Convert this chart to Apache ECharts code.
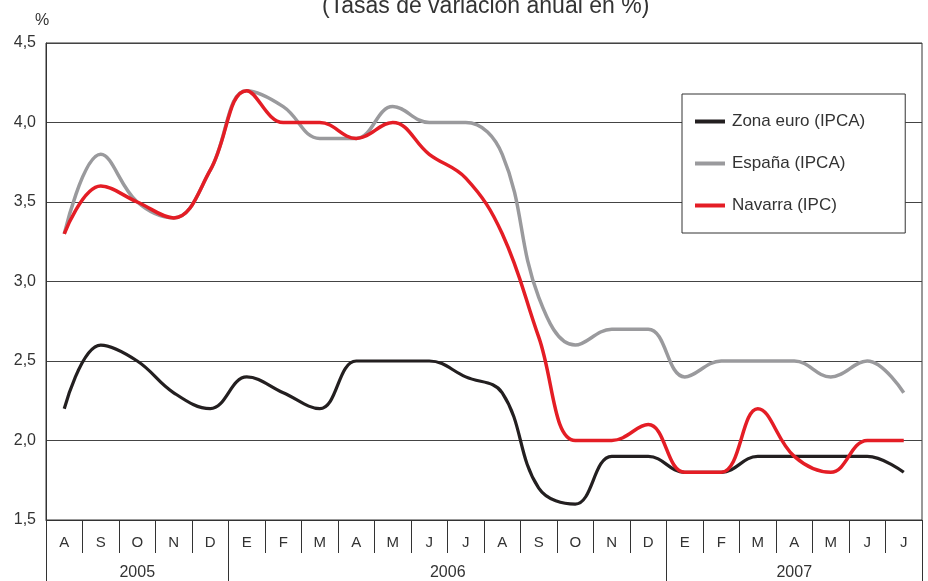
<!DOCTYPE html>
<html>
<head>
<meta charset="utf-8">
<script src="https://cdn.jsdelivr.net/npm/echarts@6/dist/echarts.min.js"></script>
<style>
  html, body { margin: 0; padding: 0; background: #fff; }
  #chart { width: 928px; height: 581px; }
</style>
</head>
<body>
<div id="chart"></div>
<script>
// meses (agosto 2005 - julio 2007)
var months = ['A', 'S', 'O', 'N', 'D',
  'E', 'F', 'M', 'A', 'M', 'J', 'J', 'A', 'S', 'O', 'N', 'D',
  'E', 'F', 'M', 'A', 'M', 'J', 'J'];
// año de cada tramo y dónde va la etiqueta del año
var years = ['2005', '2006', '2007'];
var yearStart = [0, 5, 17];
var yearLabelAt = [2, 10, 20];

var zonaEuro = [2.2, 2.6, 2.5, 2.3, 2.2,
  2.4, 2.3, 2.2, 2.5, 2.5, 2.5, 2.4, 2.3, 1.7, 1.6, 1.9, 1.9,
  1.8, 1.8, 1.9, 1.9, 1.9, 1.9, 1.8];
var espana = [3.3, 3.8, 3.5, 3.4, 3.7,
  4.2, 4.1, 3.9, 3.9, 4.1, 4.0, 4.0, 3.8, 2.9, 2.6, 2.7, 2.7,
  2.4, 2.5, 2.5, 2.5, 2.4, 2.5, 2.3];
var navarra = [3.3, 3.6, 3.5, 3.4, 3.7,
  4.2, 4.0, 4.0, 3.9, 4.0, 3.8, 3.65, 3.3, 2.65, 2.0, 2.0, 2.1,
  1.8, 1.8, 2.2, 1.9, 1.8, 2.0, 2.0];

var yearAxisData = months.map(function (m, i) {
  var k = yearLabelAt.indexOf(i);
  return k >= 0 ? years[k] : '';
});

var font = '"Liberation Sans", Roboto, sans-serif';

var myChart = echarts.init(document.getElementById('chart'));
myChart.setOption({
  backgroundColor: '#fff',
  animation: false,
  textStyle: { fontFamily: font },
  title: {
    text: '(Tasas de variación anual en %)',
    left: 317,
    top: -10,
    textStyle: { fontSize: 23, fontWeight: 'normal', color: '#333', fontFamily: font }
  },
  legend: {
    orient: 'vertical',
    left: 682,
    top: 94,
    width: 215,
    padding: [19, 40, 19, 13],
    itemGap: 25,
    itemWidth: 30,
    itemHeight: 4,
    icon: 'rect',
    backgroundColor: '#fff',
    borderColor: '#333',
    borderWidth: 1,
    textStyle: { fontSize: 17, color: '#333', padding: [0, 0, 0, 2] },
    data: ['Zona euro (IPCA)', 'España (IPCA)', 'Navarra (IPC)']
  },
  grid: {
    left: 46, right: 6, top: 43, bottom: 60,
    show: true, borderColor: '#333', borderWidth: 1
  },
  xAxis: [{
    type: 'category',
    data: months,
    boundaryGap: true,
    axisLine: { lineStyle: { color: '#333', width: 1 } },
    axisTick: { show: true, interval: 0, length: 33, lineStyle: { color: '#333' } },
    axisLabel: { interval: 0, margin: 15, fontSize: 15, color: '#333' },
    splitLine: { show: false }
  }, {
    type: 'category',
    data: yearAxisData,
    position: 'bottom',
    boundaryGap: true,
    axisLine: { show: false },
    axisTick: {
      show: true,
      length: 62,
      interval: function (i) { return yearStart.indexOf(i) >= 0; },
      lineStyle: { color: '#333' }
    },
    axisLabel: {
      interval: 0,
      margin: 45,
      fontSize: 16,
      color: '#333',
      formatter: function (v, i) { return i === 10 ? '{s|' + v + '}' : v; },
      rich: { s: { fontSize: 16, color: '#333', padding: [0, 0, 0, 37] } }
    }
  }],
  yAxis: {
    type: 'value',
    min: 1.5,
    max: 4.5,
    interval: 0.5,
    name: '%',
    nameGap: 14,
    nameTextStyle: { fontSize: 16, color: '#333', padding: [0, 8, 0, 0] },
    axisLine: { show: true, lineStyle: { color: '#333' } },
    axisTick: { show: false },
    axisLabel: {
      margin: 10, fontSize: 16, color: '#333',
      formatter: function (v) { return v.toFixed(1).replace('.', ','); }
    },
    splitLine: { lineStyle: { color: '#444', width: 1 } }
  },
  series: [{
    name: 'Zona euro (IPCA)',
    type: 'line',
    data: zonaEuro,
    smooth: 0.4,
    symbol: 'none',
    color: '#231f20',
    lineStyle: { width: 3.2 },
    z: 3
  }, {
    name: 'España (IPCA)',
    type: 'line',
    data: espana,
    smooth: 0.4,
    symbol: 'none',
    color: '#9a9a9d',
    lineStyle: { width: 3.5 },
    z: 2
  }, {
    name: 'Navarra (IPC)',
    type: 'line',
    data: navarra,
    smooth: 0.4,
    symbol: 'none',
    color: '#e41d25',
    lineStyle: { width: 3.5 },
    z: 4
  }]
});
</script>
</body>
</html>
